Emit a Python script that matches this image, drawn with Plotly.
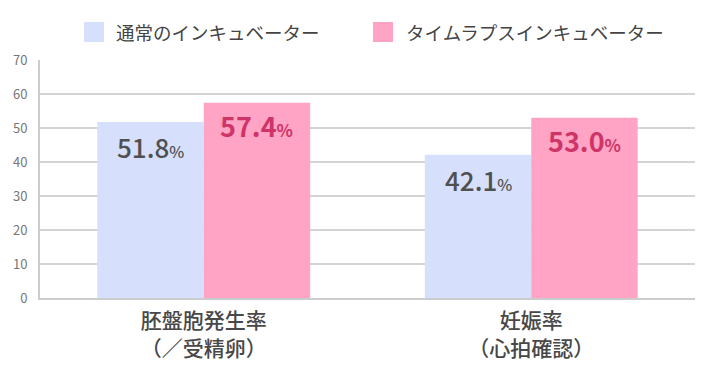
import plotly.graph_objects as go

categories = ["胚盤胞発生率<br>（／受精卵）", "妊娠率<br>（心拍確認）"]
series_names = ["通常のインキュベーター", "タイムラプスインキュベーター"]
normal_values = [51.8, 42.1]
timelapse_values = [57.4, 53.0]
y_tickvals = [0, 10, 20, 30, 40, 50, 60, 70]

BLUE = "#d6e0fd"
PINK = "#ffa4c4"
LABEL_GRAY = "#505050"
LABEL_PINK = "#cf3468"
FONT = "Noto Sans CJK JP"
BARGAP = 0.35

fig = go.Figure()
fig.add_trace(go.Bar(x=categories, y=normal_values, name=series_names[0],
                     marker=dict(color=BLUE, line=dict(width=0)), showlegend=False))
fig.add_trace(go.Bar(x=categories, y=timelapse_values, name=series_names[1],
                     marker=dict(color=PINK, line=dict(width=0)), showlegend=False))

annotations = []
off = (1 - BARGAP) / 4
for i, v in enumerate(normal_values):
    annotations.append(dict(
        x=i - off, y=v, xref="x", yref="y", yshift=-25, yanchor="middle",
        text=f"{v:.1f}<span style='font-size:16px'>%</span>",
        showarrow=False, font=dict(family=FONT, size=26, color=LABEL_GRAY, weight=500)))
for i, v in enumerate(timelapse_values):
    annotations.append(dict(
        x=i + off, y=v, xref="x", yref="y", yshift=-23, yanchor="middle",
        text=f"<b>{v:.1f}<span style='font-size:17px'>%</span></b>",
        showarrow=False, font=dict(family=FONT, size=27, color=LABEL_PINK)))

# manual legend (20x20 swatches)
L, R, T, B = 40, 10, 60, 74
W, H = 705 - L - R, 372 - T - B
def px_x(p):
    return (p - L) / W
def px_y(p):
    return (372 - B - p) / H

shapes = []
legend_items = [(series_names[0], BLUE, 84, 114), (series_names[1], PINK, 373, 404)]
for name, col, sx, tx in legend_items:
    shapes.append(dict(type="rect", xref="paper", yref="paper",
                       x0=px_x(sx), x1=px_x(sx + 20), y0=px_y(42), y1=px_y(22),
                       fillcolor=col, line=dict(width=0)))
    annotations.append(dict(x=px_x(tx), y=px_y(32), xref="paper", yref="paper",
                            xanchor="left", yanchor="middle", text=name, showarrow=False,
                            font=dict(family=FONT, size=18.5, color="#444444")))

fig.update_layout(
    width=705, height=372,
    margin=dict(l=L, r=R, t=T, b=B),
    paper_bgcolor="white", plot_bgcolor="white",
    barmode="group", bargap=BARGAP, bargroupgap=0,
    font=dict(family=FONT),
    annotations=annotations, shapes=shapes,
    xaxis=dict(showgrid=False, showline=True, linecolor="#cccccc", linewidth=2,
               ticks="", tickfont=dict(family=FONT, size=21, color="#484848", weight=500),
               ticklabelstandoff=3),
    yaxis=dict(range=[0, 70], tickvals=y_tickvals, showgrid=True, gridcolor="#d4d4d4",
               gridwidth=1.5, showline=True, linecolor="#cccccc", linewidth=2,
               zeroline=False, ticks="", tickfont=dict(family=FONT, size=13, color="#777777"),
               ticklabelstandoff=8),
)

fig.write_html("out.html", config={"displayModeBar": False},
               post_script="document.body.style.margin='0';")
